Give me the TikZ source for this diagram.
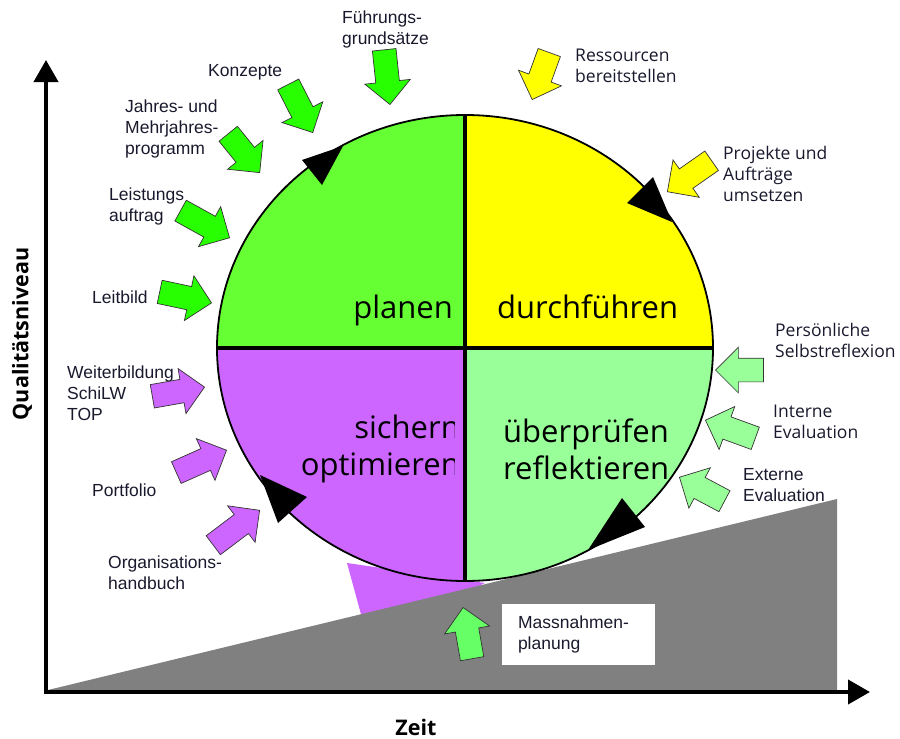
\documentclass[tikz,border=0pt]{standalone}
\usepackage{fontspec}
\setmainfont{Liberation Sans}
\newfontfamily\frut{Open Sans}
\usepackage{tikz}
\usetikzlibrary{arrows.meta,positioning,shapes.arrows}

\definecolor{planGreen}{RGB}{102,255,51}
\definecolor{arrowGreen}{RGB}{40,255,0}
\definecolor{doYellow}{RGB}{255,255,0}
\definecolor{checkGreen}{RGB}{153,255,153}
\definecolor{actPurple}{RGB}{204,102,255}
\definecolor{slopeGray}{RGB}{128,128,128}
\definecolor{massGreen}{RGB}{102,255,102}
\definecolor{labelInk}{RGB}{25,25,45}

\begin{document}
\begin{tikzpicture}[
    x=1pt, y=-1pt,
    blockarrow/.style={
        single arrow,
        draw=black!80,
        line width=0.7pt,
        inner xsep=0pt,
        inner ysep=11.5pt,
        single arrow head extend=11pt,
        minimum width=45pt,
        minimum height=#1,
        anchor=tip
    },
    blockarrow/.default=53pt,
    arialtext/.style={
        font=\fontsize{17.5}{21}\selectfont,
        text=labelInk,
        align=left,
        inner sep=0pt,
        anchor=west
    },
    frutext/.style={
        font=\frut\fontsize{17.5}{21}\selectfont,
        text=labelInk,
        align=left,
        inner sep=0pt,
        anchor=west
    },
    phase/.style={
        font=\frut\fontsize{31}{37}\selectfont,
        inner sep=0pt
    },
    axislabel/.style={
        font=\frut\bfseries\fontsize{21.5}{26}\selectfont,
        inner sep=0pt
    },
    axis/.style={
        line width=4pt,
        {Triangle[length=22pt,width=24pt]}-{Triangle[length=22pt,width=24pt]}
    }
]
\useasboundingbox (0,0) rectangle (900,739);

% wedge and slope
\fill[actPurple] (347,563) -- (485,583) -- (368,640) -- cycle;
\fill[slopeGray] (48,690) -- (837,499) -- (837,690) -- cycle;

% the cycle
\coordinate (hub) at (465,348);
\begin{scope}
    \clip (hub) ellipse [x radius=248, y radius=233];
    \fill[planGreen] (hub) rectangle (200,100);
    \fill[doYellow] (hub) rectangle (730,100);
    \fill[actPurple] (hub) rectangle (200,600);
    \fill[checkGreen] (hub) rectangle (730,600);
\end{scope}
\draw[line width=4pt] (217,348) -- (713,348);
\draw[line width=4pt] (465,115) -- (465,581);
\draw[line width=1.8pt] (hub) ellipse [x radius=248, y radius=233];

\fill (343,146) -- (302,160) -- (322,185) -- cycle;
\fill (672,222) -- (627,203) -- (653,177) -- cycle;
\fill (588,550) -- (622,498) -- (645,527) -- cycle;
\fill (260,475) -- (307,497) -- (278,523) -- cycle;

\node[phase, anchor=base east] (planen) at (453,318) {planen};
\node[phase, anchor=base west] (durchfuehren) at (497,318) {durchführen};
\begin{scope}
    \clip (200,380) rectangle (454,500);
    \node[phase, anchor=east, align=right] (sichern) at (460,449) {sichern\\optimieren};
\end{scope}
\node[phase, anchor=west, align=left] (pruefen) at (503,449) {überprüfen\\reflektieren};

% inputs
\node[arialtext] (fuehrungtext) at (342,29) {Führungs-\\grundsätze};
\node[arialtext] (konzeptetext) at (208,72) {Konzepte};
\node[arialtext] (jahrestext) at (125,129) {Jahres- und\\Mehrjahres-\\programm};
\node[arialtext] (leistungtext) at (109,206) {Leistungs\\auftrag};
\node[arialtext] (leitbildtext) at (92,297) {Leitbild};
\node[arialtext] (weitertext) at (67,393) {Weiterbildung\\SchiLW\\TOP};
\node[arialtext] (portfoliotext) at (92,490) {Portfolio};
\node[arialtext] (orgtext) at (108,573) {Organisations-\\handbuch};
\node[frutext] (ressourcentext) at (575,66) {Ressourcen\\bereitstellen};
\node[frutext] (projektetext) at (723,174) {Projekte und\\Aufträge\\umsetzen};
\node[frutext] (persoentext) at (775,340) {Persönliche\\Selbstreflexion};
\node[frutext] (internetext) at (773,422) {Interne\\Evaluation};
\node[arialtext] (externetext) at (743,485) {Externe\\Evaluation};

\node[blockarrow=55pt, fill=arrowGreen, rotate=-84] (fuehrungarrow) at (390,105) {};
\node[blockarrow=54pt, fill=arrowGreen, rotate=-63] (konzeptearrow) at (313,133) {};
\node[blockarrow=50pt, fill=arrowGreen, rotate=-51] (jahresarrow) at (260,173) {};
\node[blockarrow=56pt, fill=arrowGreen, rotate=-29] (leistungarrow) at (230,238) {};
\node[blockarrow=53pt, fill=arrowGreen, rotate=-12] (leitbildarrow) at (212,303) {};
\node[blockarrow=53pt, fill=actPurple, rotate=10] (weiterarrow) at (205,387) {};
\node[blockarrow=55pt, fill=actPurple, rotate=24] (portfolioarrow) at (227,450) {};
\node[blockarrow=58pt, fill=actPurple, rotate=37] (orgarrow) at (260,510) {};
\node[blockarrow=50pt, fill=doYellow, rotate=-110] (ressourcenarrow) at (532,100) {};
\node[blockarrow=54pt, fill=doYellow, rotate=-145] (projektearrow) at (667,192) {};
\node[blockarrow=48pt, fill=checkGreen, rotate=180] (persoenarrow) at (715,370) {};
\node[blockarrow=53pt, fill=checkGreen, rotate=160] (internearrow) at (705,420) {};
\node[blockarrow=51pt, fill=checkGreen, rotate=152] (externearrow) at (679,477) {};
\node[blockarrow=52pt, fill=massGreen, rotate=100] (massarrow) at (463,607) {};

\node[fill=white, minimum width=153pt, minimum height=61pt, inner xsep=16pt,
      text width=121pt, align=left, font=\fontsize{17.5}{21}\selectfont,
      text=labelInk] (masstext) at (578.5,634.5) {Massnahmen-\\planung};

% axes
\coordinate (origin) at (46,692);
\coordinate (ytip) at (46,60);
\coordinate (xtip) at (870,692);
\draw[axis] (ytip) -- (origin) -- (xtip);
\node[axislabel, rotate=90] (quality) at (22,334) {Qualitätsniveau};
\node[axislabel] (time) at (416,727) {Zeit};

\end{tikzpicture}
\end{document}
